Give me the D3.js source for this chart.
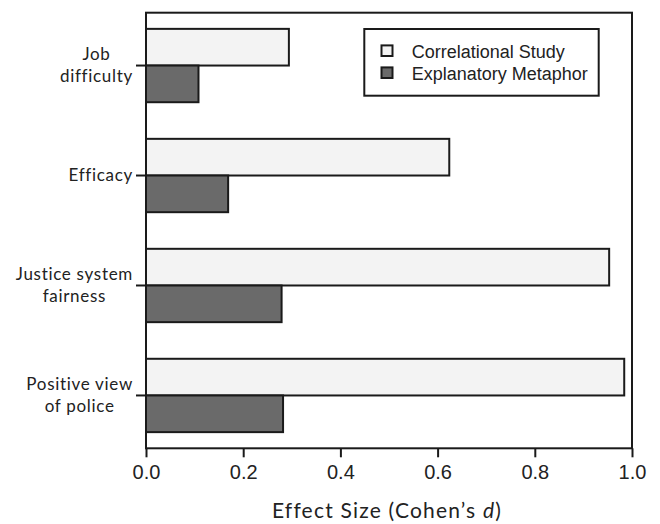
<!DOCTYPE html>
<html><head><meta charset="utf-8">
<script src="https://cdn.jsdelivr.net/npm/d3@7"></script>
<style>html,body{margin:0;padding:0;background:#fff;}</style>
</head><body>
<script>
const categories = ["Job difficulty", "Efficacy", "Justice system fairness", "Positive view of police"];
const categoryLines = [["Job", "difficulty"], ["Efficacy"], ["Justice system", "fairness"], ["Positive view", "of police"]];
const seriesNames = ["Correlational Study", "Explanatory Metaphor"];
const correlational = [0.294, 0.624, 0.953, 0.984];
const metaphor = [0.108, 0.169, 0.279, 0.282];
const xTicks = [0, 0.2, 0.4, 0.6, 0.8, 1.0];
const xTitle = "Effect Size (Cohen\u2019s ";

(function() {
const W = 660, H = 524;
const pL = 146, pR = 632, pT = 12.7, pB = 448.3;
const fills = ["#f3f3f3", "#6a6a6a"];
const ink = "#1a1a1a";
const catFont = "Lato, sans-serif";

const svg = d3.select("body").append("svg").attr("width", W).attr("height", H);

const x = d3.scaleLinear().domain([0, 1]).range([pL, pR]);
const y = d3.scaleBand().domain(categories).range([pT, pB]).paddingInner(0.333).paddingOuter(0.147);
const ySub = d3.scaleBand().domain([0, 1]).range([0, y.bandwidth()]);

const data = categories.map((c, i) => ({cat: c, vals: [correlational[i], metaphor[i]]}));

const g = svg.append("g");
data.forEach(d => {
  d.vals.forEach((v, k) => {
    g.append("rect")
      .attr("x", x(0)).attr("y", y(d.cat) + ySub(k))
      .attr("width", x(v) - x(0)).attr("height", ySub.bandwidth())
      .attr("fill", fills[k]).attr("stroke", ink).attr("stroke-width", 2);
  });
});

svg.append("rect").attr("x", pL).attr("y", pT).attr("width", pR - pL).attr("height", pB - pT)
  .attr("fill", "none").attr("stroke", ink).attr("stroke-width", 2);

const xAxis = d3.axisBottom(x).tickValues(xTicks).tickFormat(d3.format(".1f")).tickSize(9).tickPadding(8);
const xa = svg.append("g").attr("transform", `translate(0,${pB})`).call(xAxis);
xa.select(".domain").remove();
xa.selectAll(".tick line").attr("stroke", ink).attr("stroke-width", 2);
xa.selectAll(".tick text").attr("font-family", "'Liberation Sans', Arial, sans-serif").attr("font-size", 20).attr("fill", "#222");

const ya = svg.append("g").attr("transform", `translate(${pL},0)`)
  .call(d3.axisLeft(y).tickSize(10).tickFormat(""));
ya.select(".domain").remove();
ya.selectAll(".tick line").attr("stroke", ink).attr("stroke-width", 2);

const lineH = 22;
categories.forEach((c, i) => {
  const lines = categoryLines[i];
  const t = svg.append("text").attr("font-family", catFont).attr("font-size", 17).attr("fill", "#222")
    .attr("letter-spacing", 0.7).attr("text-anchor", "middle");
  const cy = y(c) + y.bandwidth() / 2;
  lines.forEach((ln, j) => {
    t.append("tspan").text(ln).attr("y", cy + (j - (lines.length - 1) / 2) * lineH).attr("dy", "0.35em");
  });
  let maxW = 0;
  t.selectAll("tspan").each(function() { maxW = Math.max(maxW, this.getComputedTextLength()); });
  t.selectAll("tspan").attr("x", 133 - maxW / 2);
});

const xt = svg.append("text").attr("x", (pL + pR) / 2 - 2).attr("y", 518.3)
  .attr("text-anchor", "middle").attr("font-family", catFont).attr("font-size", 21).attr("fill", "#222")
  .attr("letter-spacing", 1.2);
xt.append("tspan").text(xTitle);
xt.append("tspan").text("d").attr("font-style", "italic");
xt.append("tspan").text(")");

const lg = svg.append("g");
lg.append("rect").attr("x", 364.3).attr("y", 29).attr("width", 234.4).attr("height", 66.7)
  .attr("fill", "#fff").attr("stroke", ink).attr("stroke-width", 2);
seriesNames.forEach((s, k) => {
  const yy = 50.7 + k * 22;
  lg.append("rect").attr("x", 381.5).attr("y", yy - 5.3).attr("width", 11).attr("height", 10.6)
    .attr("fill", fills[k]).attr("stroke", ink).attr("stroke-width", 2);
  lg.append("text").attr("x", 411.7).attr("y", yy + 7.3).text(s)
    .attr("font-family", "'Liberation Sans', Arial, sans-serif").attr("font-size", 18).attr("fill", "#222");
});
})();
</script>
</body></html>
